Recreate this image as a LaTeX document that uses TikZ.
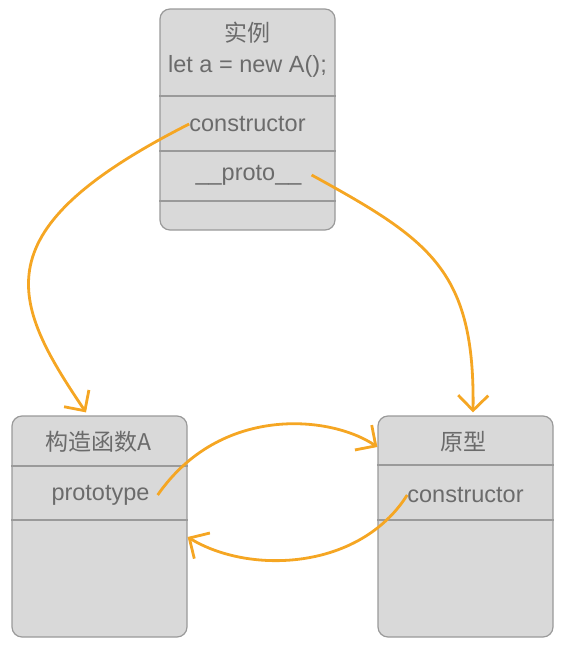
\documentclass[tikz,border=0pt]{standalone}
\usepackage{fontspec}
\setmainfont{Liberation Sans}
\newfontfamily\cjk{Noto Sans CJK SC}
\usetikzlibrary{arrows.meta}
\definecolor{boxfill}{HTML}{D9D9D9}
\definecolor{boxline}{HTML}{9A9A9A}
\definecolor{txtgray}{HTML}{6B6B6B}
\definecolor{linkorange}{HTML}{F5A623}

\begin{document}
\begin{tikzpicture}[
  x=1pt, y=-1pt,
  objbox/.style={draw=boxline, fill=boxfill, line width=1.2pt, rounded corners=10pt,
    minimum width=175pt, minimum height=221pt, inner sep=0pt},
  field/.style={text=txtgray, font=\fontsize{23.5}{28}\selectfont, inner sep=0pt},
  title/.style={field, font=\cjk\fontsize{23}{28}\selectfont},
  divider/.style={draw=boxline, line width=1.2pt},
  link/.style={draw=linkorange, line width=2.8pt, -{Straight Barb[length=15pt,width=30pt]}}
]
  \useasboundingbox (0,0) rectangle (562,656);

  % instance
  \node[objbox] (inst) at (247.5,119.5) {};
  \draw[divider] (inst.west |- 0,96) -- (inst.east |- 0,96);
  \draw[divider] (inst.west |- 0,151) -- (inst.east |- 0,151);
  \draw[divider] (inst.west |- 0,201) -- (inst.east |- 0,201);
  \node[title] (insttitle) at (247.5,33) {实例};
  \node[field] (instnew) at (247.5,66) {let a = new A();};
  \node[field] (instctor) at (247.5,124) {constructor};
  \node[field] (instproto) at (248.5,175) {\_\_proto\_\_};

  % constructor function
  \node[objbox] (func) at (99.5,526.5) {};
  \draw[divider] (func.west |- 0,466) -- (func.east |- 0,466);
  \draw[divider] (func.west |- 0,520) -- (func.east |- 0,520);
  \node[title] (functitle) at (98,442) {构造函数A};
  \node[field] (funcproto) at (100.5,495) {prototype};

  % prototype object
  \node[objbox] (proto) at (465.5,526.5) {};
  \draw[divider] (proto.west |- 0,465) -- (proto.east |- 0,465);
  \draw[divider] (proto.west |- 0,520) -- (proto.east |- 0,520);
  \node[title] (prototitle) at (463.5,442) {原型};
  \node[field] (protoctor) at (465.5,495) {constructor};

  \draw[link] (instctor.west) .. controls (-20,230) and (10,300) .. ([xshift=-13.5pt,yshift=3pt]func.north);
  \draw[link] ([xshift=10pt]instproto.east) .. controls (430,240) and (475,270) .. ([xshift=7.5pt,yshift=3pt]proto.north);
  \draw[link] ([xshift=8pt]funcproto.east) .. controls (220,405) and (330,415) .. ([yshift=79.5pt]proto.west);
  \draw[link] (protoctor.west) .. controls (360,570) and (250,575) .. ([yshift=-10.5pt]func.east);
\end{tikzpicture}
\end{document}
